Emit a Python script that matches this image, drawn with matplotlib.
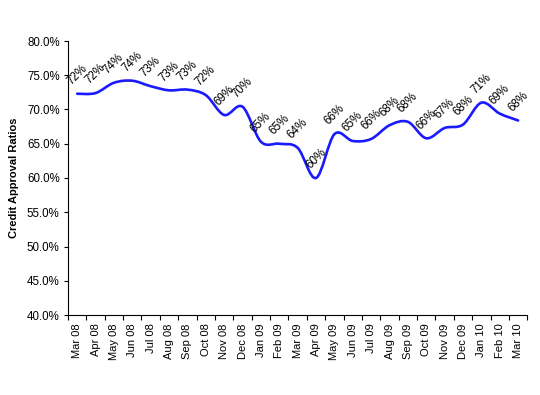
import numpy as np
import matplotlib
matplotlib.use("Agg")
import matplotlib.pyplot as plt
from matplotlib.path import Path
from matplotlib.patches import PathPatch

plt.rcParams["font.family"] = ["Liberation Sans", "DejaVu Sans"]

# --- data ------------------------------------------------------------------
months = ["Mar 08", "Apr 08", "May 08", "Jun 08", "Jul 08", "Aug 08", "Sep 08",
          "Oct 08", "Nov 08", "Dec 08", "Jan 09", "Feb 09", "Mar 09", "Apr 09",
          "May 09", "Jun 09", "Jul 09", "Aug 09", "Sep 09", "Oct 09", "Nov 09",
          "Dec 09", "Jan 10", "Feb 10", "Mar 10"]
approval = [72.3, 72.4, 73.9, 74.2, 73.4, 72.8, 72.9, 72.1, 69.2, 70.4,
            65.3, 65.0, 64.4, 60.0, 66.4, 65.4, 65.7, 67.7, 68.2, 65.8,
            67.3, 67.8, 71.0, 69.4, 68.4]
yticks = [40, 45, 50, 55, 60, 65, 70, 75, 80]


def smooth_path(x, y):
    # Excel-style smoothed line: cubic Bezier through every point
    pts = np.column_stack([x, y])
    n = len(pts)
    verts = [pts[0]]
    codes = [Path.MOVETO]
    for i in range(n - 1):
        p0 = pts[i - 1] if i > 0 else pts[i]
        p1, p2 = pts[i], pts[i + 1]
        p3 = pts[i + 2] if i + 2 < n else pts[i + 1]
        c1 = p1 + (p2 - p0) / 6.0
        c2 = p2 - (p3 - p1) / 6.0
        verts += [c1, c2, p2]
        codes += [Path.CURVE4] * 3
    return Path(verts, codes)


def main():
    fig = plt.figure(figsize=(5.4, 3.95), dpi=100)
    ax = fig.add_axes([68 / 540, 1 - 315 / 395, (527.3 - 68) / 540, (315 - 41) / 395])

    x = np.arange(len(months))
    ax.add_patch(PathPatch(smooth_path(x, approval), fill=False,
                           edgecolor="#1a1aff", lw=1.9, capstyle="round"))

    # rotated data labels above each point
    for xi, v in zip(x, approval):
        ax.annotate(f"{v:.0f}%", (xi, v), xytext=(0, 19), textcoords="offset pixels",
                    rotation=45, ha="center", va="center", fontsize=8.3)

    ax.set_xlim(-0.5, len(months) - 0.5)
    ax.set_ylim(40, 80)
    ax.set_yticks(yticks)
    ax.set_yticklabels([f"{t:.1f}%" for t in yticks])
    ax.set_xticks(x)
    ax.set_xticklabels(months, rotation=90)
    ax.set_xticks(np.arange(-0.5, len(months)), minor=True)
    ax.tick_params(axis="x", which="major", length=0, pad=6, labelsize=8)
    ax.tick_params(axis="x", which="minor", length=3.5, direction="out", width=0.8)
    ax.tick_params(axis="y", length=3, width=0.8, pad=3, labelsize=8.3)

    for s in ["top", "right"]:
        ax.spines[s].set_visible(False)
    for s in ["left", "bottom"]:
        ax.spines[s].set_linewidth(0.8)

    ax.set_ylabel("Credit Approval Ratios", fontsize=8, fontweight="bold", labelpad=6)

    fig.savefig("out.png", dpi=100, facecolor="white")
    plt.close(fig)


if __name__ == "__main__":
    main()
